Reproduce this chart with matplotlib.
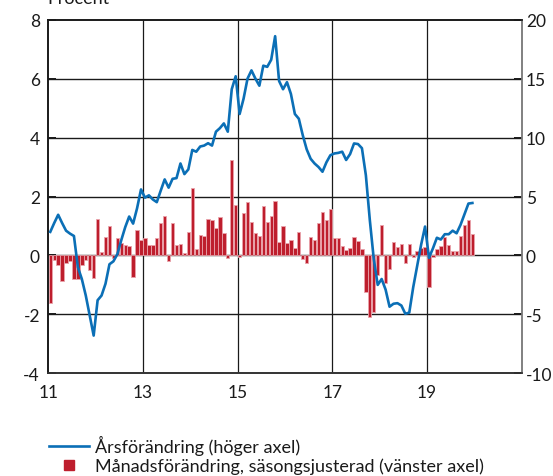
import matplotlib
matplotlib.use("Agg")
import matplotlib.pyplot as plt
from matplotlib.lines import Line2D
import numpy as np

plt.rcParams['font.family'] = ['Lato', 'DejaVu Sans']
plt.rcParams['axes.unicode_minus'] = False

# Monthly data Jan 2011 - Dec 2019
monthly_change = [
    -1.6, -0.15, -0.34, -0.86, -0.25, -0.2, -0.8, -0.8, -0.32, -0.17, -0.51, -0.78,
    1.22, 0.11, 0.64, 1.0, -0.08, 0.59, 0.43, 0.37, 0.33, -0.72, 0.87, 0.54,
    0.6, 0.34, 0.37, 0.6, 1.1, 1.34, -0.19, 1.09, 0.37, 0.39, 0.08, 0.8,
    2.28, 0.23, 0.7, 0.67, 1.23, 1.21, 0.93, 1.29, 0.76, -0.09, 3.25, 1.7,
    -0.07, 1.43, 1.82, 1.15, 0.77, 0.67, 1.68, 1.12, 1.34, 1.85, 0.47, 1.0,
    0.41, 0.53, 0.25, 0.81, -0.13, -0.25, 0.62, 0.54, 1.09, 1.48, 1.21, 1.57,
    0.6, 0.58, 0.33, 0.19, 0.26, 0.62, 0.49, 0.23, -1.25, -2.09, -1.92, -0.66,
    1.04, -0.94, -0.46, 0.45, 0.3, 0.38, -0.25, 0.38, -0.06, 0.16, 0.26, 0.28,
    -1.08, -0.07, 0.22, 0.31, 0.64, 0.35, 0.16, 0.16, 0.65, 1.03, 1.2, 0.72,
]
annual_change = [
    2.0, 2.75, 3.45, 2.75, 2.1, 1.85, 1.65, -1.0, -2.0, -3.4, -5.1, -6.8,
    -3.8, -3.4, -2.4, -0.75, -0.5, 0.1, 1.3, 2.4, 3.3, 2.7, 4.0, 5.6,
    4.9, 5.1, 4.75, 4.52, 5.5, 6.45, 5.75, 6.5, 6.56, 7.8, 6.9, 7.3,
    8.95, 8.8, 9.24, 9.32, 9.52, 9.32, 10.5, 10.8, 11.2, 10.5, 14.1, 15.2,
    12.0, 13.3, 15.0, 15.7, 15.0, 14.4, 16.1, 16.0, 16.6, 18.6, 14.8, 14.1,
    14.7, 13.7, 12.0, 11.6, 10.2, 9.0, 8.2, 7.8, 7.5, 7.1, 7.9, 8.5,
    8.65, 8.7, 8.8, 8.1, 8.6, 9.5, 9.45, 9.1, 6.8, 3.0, -0.3, -2.5,
    -2.0, -2.9, -4.35, -4.1, -4.05, -4.25, -4.95, -4.85, -2.7, -0.9, 0.9, 2.45,
    -0.2, 0.6, 1.5, 1.35, 1.8, 1.8, 2.1, 1.88, 2.6, 3.5, 4.4, 4.45,
]
start_year = 2011
end_year = 2021
year_tick_labels = ['11', '13', '15', '17', '19']
left_ticks = [-4, -2, 0, 2, 4, 6, 8]
right_ticks = [-10, -5, 0, 5, 10, 15, 20]

BLUE = '#0B6FB6'
RED = '#BE1E2D'
EDGE = '#E9A3AB'
INK = '#1a1a1a'
FS = 13
TFS = 12.5

W, H = 553, 477
fig = plt.figure(figsize=(W / 100, H / 100), dpi=100)
ax = fig.add_axes([48.3 / W, 1 - 374.3 / H, (521.7 - 48.3) / W, (374.3 - 20.7) / H])
ax2 = ax.twinx()

n = len(monthly_change)
x = np.arange(n) + 0.5  # month centres, in months since Jan 2011

ax.set_axisbelow(True)
ax.bar(x, monthly_change, width=0.85, color=RED, edgecolor=EDGE, linewidth=0.6, zorder=3)
line, = ax2.plot(x, annual_change, color=BLUE, linewidth=1.9, solid_joinstyle='round', zorder=4)

nmonths = (end_year - start_year) * 12
ax.set_xlim(0, nmonths)
ax.set_ylim(left_ticks[0], left_ticks[-1])
ax2.set_ylim(right_ticks[0], right_ticks[-1])
ax.set_yticks(left_ticks)
ax2.set_yticks(right_ticks)
ax.set_yticklabels([str(v) for v in left_ticks])
ax2.set_yticklabels([str(v) for v in right_ticks])
ax.set_xticks(np.arange(len(year_tick_labels)) * 24)
ax.set_xticklabels(year_tick_labels)

# grid lines
for v in left_ticks[1:-1]:
    ax.axhline(v, color=INK, linewidth=1.0, zorder=1)
for xv in np.arange(1, len(year_tick_labels)) * 24:
    ax.axvline(xv, color=INK, linewidth=0.9, zorder=1)

for a in (ax, ax2):
    a.tick_params(axis='y', labelsize=TFS, direction='in', length=6, width=1.4, colors=INK)
    a.tick_params(axis='x', labelsize=TFS, length=0, pad=8, colors=INK)
ax.tick_params(axis='y', pad=6)
ax2.tick_params(axis='y', pad=3)

for a in (ax, ax2):
    a.spines['left'].set_color(INK)
    a.spines['top'].set_color(INK)
    a.spines['bottom'].set_color('#333333')
    a.spines['right'].set_color('#808080')
    for s in a.spines.values():
        s.set_linewidth(1.2)

fig.text(47 / W, 1 - 4 / H, 'Procent', fontsize=FS, ha='left', va='baseline', color=INK)

bar_proxy = Line2D([], [], marker='s', linestyle='none', color=RED, markersize=7.5)
fig.legend([line, bar_proxy],
           ['Årsförändring (höger axel)', 'Månadsförändring, säsongsjusterad (vänster axel)'],
           loc='upper left', bbox_to_anchor=(49 / W, 1 - 436 / H), frameon=False,
           fontsize=FS, handlelength=2.2, handletextpad=0.35, borderpad=0, borderaxespad=0,
           labelspacing=0.15, labelcolor=INK)

fig.savefig('out.png', dpi=100)
